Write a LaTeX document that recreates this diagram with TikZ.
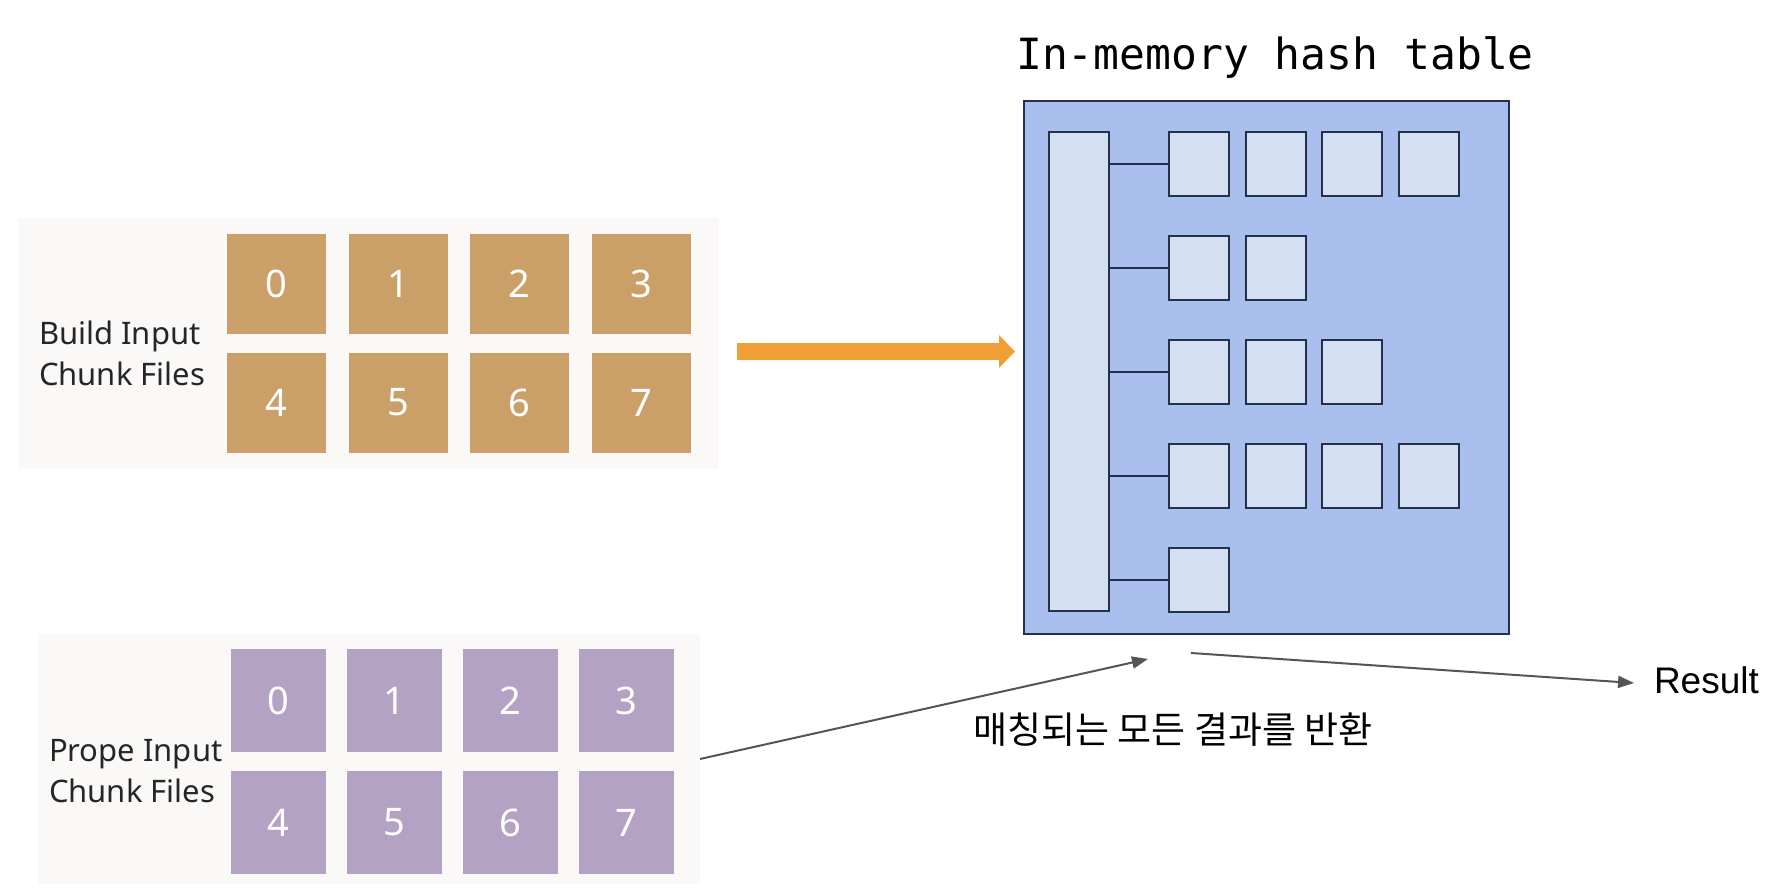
\documentclass[tikz,border=0pt]{standalone}
\usepackage{fontspec}
\setmainfont{Noto Sans}
\newfontfamily\krfont{Noto Sans CJK KR}
\newfontfamily\codefont{DejaVu Sans Mono}
\newfontfamily\resfont{Liberation Sans}
\usetikzlibrary{positioning,arrows.meta,fit}
\definecolor{panelgray}{HTML}{FAF9F7}
\definecolor{buildtan}{HTML}{CBA068}
\definecolor{probelilac}{HTML}{B3A2C4}
\definecolor{feedorange}{HTML}{F09E36}
\definecolor{hashblue}{HTML}{A9C0EE}
\definecolor{cellblue}{HTML}{D4E0F1}
\definecolor{cellline}{HTML}{26304A}
\definecolor{flowgray}{HTML}{555555}

\begin{document}
\begin{tikzpicture}
        [x=1pt, y=-1pt,
        every node/.style={inner sep=0pt, outer sep=0pt},
        panel/.style={fill=panelgray, draw=none},
        chunk/.style={minimum width=99pt, minimum height=100pt, text=white,
        font=\fontsize{38}{38}\selectfont},
        chunklabel/.style={anchor=west, align=left, text=black!85,
        font=\fontsize{31}{41}\selectfont},
        hashbox/.style={fill=hashblue, draw=cellline, line width=2pt},
        cell/.style={fill=cellblue, draw=cellline, line width=2pt,
        minimum width=60pt, minimum height=64pt},
        link/.style={draw=cellline, line width=2pt},
        flow/.style={draw=flowgray, line width=2pt,
        -{Triangle[length=16pt,width=12pt]}}]
        \useasboundingbox (0,0) rectangle (1782,896);
        % build side
        \node[panel, minimum width=701pt, minimum height=251pt] (build) at (368.5,343.5) {};
        \foreach \n in {0,...,7} {
            \pgfmathtruncatemacro{\col}{mod(\n,4)}
            \pgfmathtruncatemacro{\row}{\n/4}
            \node[chunk, fill=buildtan] (b\n) at (276.5+121.5*\col, 284+118.5*\row) {\n};
        }
        \node[chunklabel] (blabel) at (39,353) {Build Input\\Chunk Files};
        % probe side
        \node[panel, minimum width=662pt, minimum height=250pt] (probe) at (369,759) {};
        \foreach \n in {0,...,7} {
            \pgfmathtruncatemacro{\col}{mod(\n,4)}
            \pgfmathtruncatemacro{\row}{\n/4}
            \node[chunk, fill=probelilac, minimum width=95pt, minimum height=103pt]
                (p\n) at (278.5+116*\col, 700.5+122*\row) {\n};
        }
        \node[chunklabel] (plabel) at (49,771) {Prope Input\\Chunk Files};
        % hash table
        \node[font=\codefont\fontsize{43}{43}\selectfont] (title) at (1275,58) {In-memory hash table};
        \node[hashbox, minimum width=485pt, minimum height=533pt] (hash) at (1266.5,367.5) {};
        \node[cell, minimum height=479pt] (bucket) at (1079,371.5) {};
        \foreach \r/\k in {1/4,2/2,3/3,4/4,5/1} {
            \foreach \c in {1,...,\k}
                \node[cell] (c\r\c) at (1199+76.7*\c-76.7, 164.5+103.75*\r-103.75) {};
            \draw[link] (bucket.east |- c\r1) -- (c\r1.west);
        }
        % flows
        \draw[feedorange, line width=17pt, -{Triangle[length=16pt,width=32pt]}]
            ([shift={(18,8)}]build.east) -- ([shift={(-9,8)}]build.east -| hash.west);
        \coordinate (hit) at (1148,659);
        \coordinate (ret) at (1191,653);
        \node[font=\resfont\fontsize{37}{37}\selectfont, anchor=west] (result) at (1654,680) {Result};
        \node[font=\krfont\fontsize{37}{37}\selectfont] (matchnote) at (1173,730) {매칭되는 모든 결과를 반환};
        \draw[flow] (probe.east) -- (hit);
        \draw[flow] (ret) -- ([shift={(-20,3)}]result.west);
\end{tikzpicture}
\end{document}
